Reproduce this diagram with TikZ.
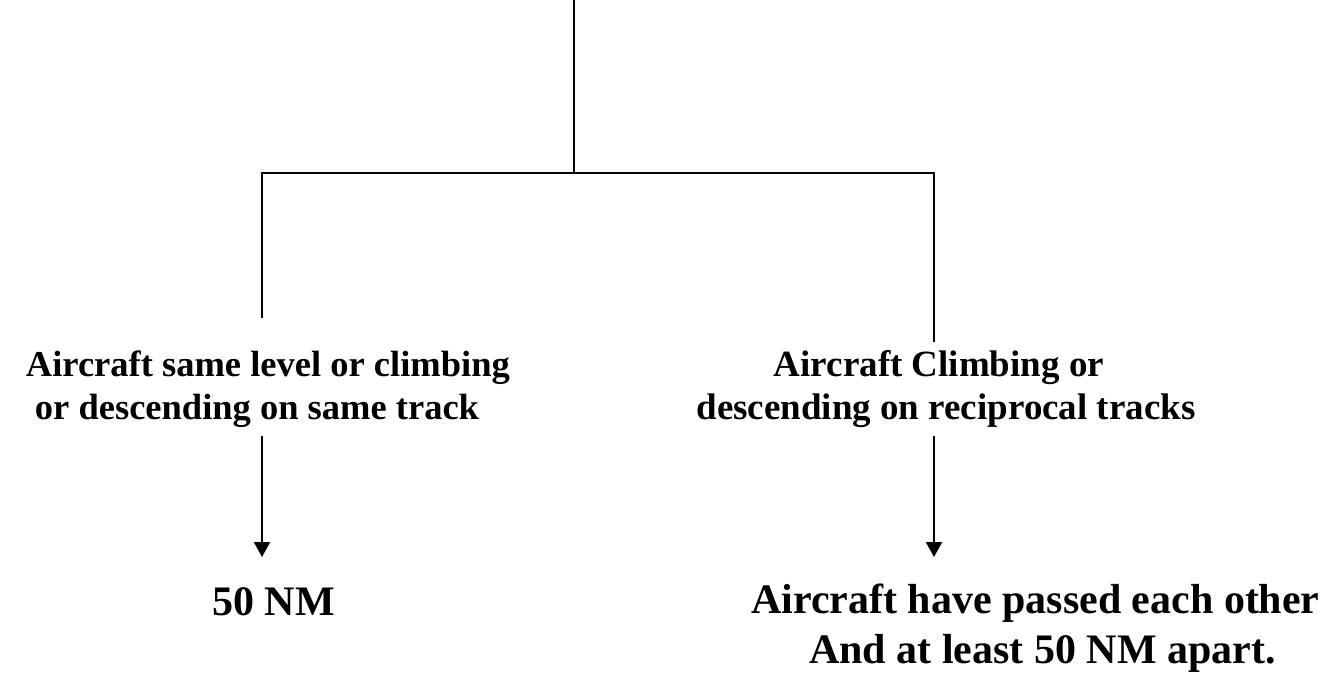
\documentclass[tikz,border=0pt]{standalone}
\usepackage{fontspec}
\setmainfont{Liberation Serif}
\usetikzlibrary{arrows.meta}
\begin{document}
\begin{tikzpicture}[x=1pt,y=-1pt,
  conn/.style={line width=2pt},
  arr/.style={line width=2pt,-{Triangle[width=16pt,length=15pt]}},
  lbl/.style={font=\bfseries\fontsize{37}{43}\selectfont,inner sep=0pt},
  lbll/.style={font=\bfseries\fontsize{36.5}{43}\selectfont,inner sep=0pt},
  big/.style={font=\bfseries\fontsize{42}{50}\selectfont,inner sep=0pt}]
\useasboundingbox (0,0) rectangle (1328,674);
\coordinate (top) at (574,0);
\coordinate (j) at (574,173);
\coordinate (lend) at (262,318);
\coordinate (rend) at (934,342);
\draw[conn] (top) -- (j);
\draw[conn] (lend) -- (lend |- j) -- (rend |- j) -- (rend);
\node[lbll,anchor=base east] (L) at (510,419)
  {\begin{tabular}[b]{@{}l@{}}Aircraft same level or climbing\\\hspace*{9pt}or descending on same track\end{tabular}};
\node[lbl,anchor=base] (R) at (946,419)
  {\begin{tabular}[b]{@{}c@{}}Aircraft Climbing or\hspace*{14pt}\\descending on reciprocal tracks\end{tabular}};
\node[big,anchor=base] (F) at (273.5,615) {50 NM};
\node[big,anchor=base west] (P) at (751,663)
  {\begin{tabular}[b]{@{}l@{}}Aircraft have passed each other\\\hspace*{58pt}And at least 50 NM apart.\end{tabular}};
\coordinate (aL1) at (262,436);
\coordinate (aL2) at (262,557);
\coordinate (aR1) at (934,436);
\coordinate (aR2) at (934,557);
\draw[arr] (aL1) -- (aL2);
\draw[arr] (aR1) -- (aR2);
\end{tikzpicture}
\end{document}
